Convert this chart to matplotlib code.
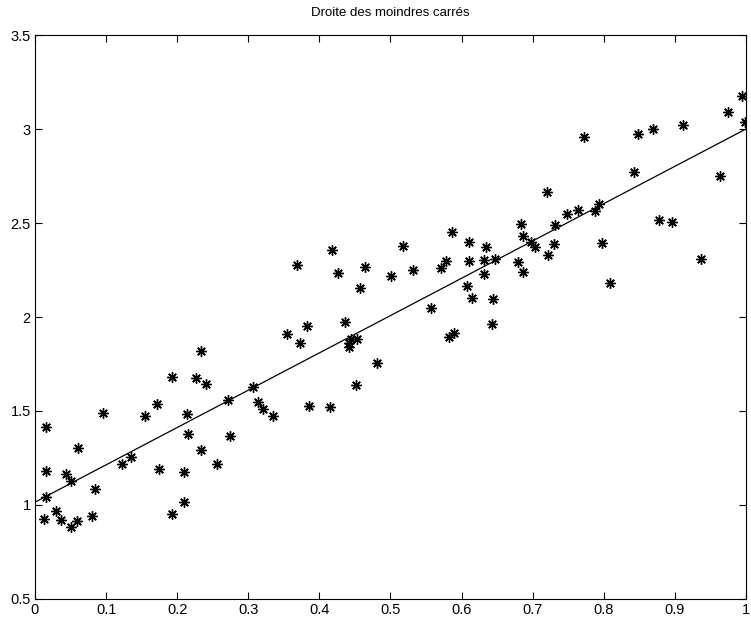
import matplotlib
matplotlib.use("Agg")
import matplotlib.pyplot as plt
import numpy as np

plt.rcParams['font.family'] = ['Liberation Sans', 'DejaVu Sans']

# points
x = [0.016, 0.015, 0.016, 0.013, 0.029, 0.036, 0.051, 0.059, 0.044, 0.050,
     0.060, 0.080, 0.085, 0.095, 0.122, 0.135, 0.155, 0.172, 0.175, 0.193,
     0.192, 0.209, 0.209, 0.214, 0.215, 0.233, 0.227, 0.241, 0.233, 0.256,
     0.271, 0.274, 0.306, 0.314, 0.321, 0.335, 0.386, 0.415, 0.355, 0.373,
     0.383, 0.369, 0.418, 0.426, 0.464, 0.457, 0.436, 0.444, 0.453, 0.441,
     0.442, 0.481, 0.452, 0.501, 0.518, 0.532, 0.571, 0.578, 0.586, 0.557,
     0.583, 0.590, 0.611, 0.610, 0.634, 0.632, 0.647, 0.632, 0.607, 0.615,
     0.644, 0.643, 0.679, 0.687, 0.684, 0.686, 0.697, 0.703, 0.721, 0.730,
     0.731, 0.720, 0.748, 0.764, 0.772, 0.787, 0.793, 0.798, 0.809, 0.842,
     0.848, 0.869, 0.878, 0.896, 0.912, 0.937, 0.964, 0.975, 0.998, 0.994]
y = [1.417, 1.180, 1.040, 0.925, 0.968, 0.920, 0.885, 0.915, 1.165, 1.128,
     1.305, 0.940, 1.085, 1.490, 1.218, 1.257, 1.475, 1.539, 1.190, 1.683,
     0.952, 1.014, 1.175, 1.484, 1.376, 1.819, 1.674, 1.642, 1.293, 1.218,
     1.559, 1.365, 1.626, 1.546, 1.509, 1.475, 1.525, 1.523, 1.910, 1.860,
     1.952, 2.278, 2.356, 2.234, 2.266, 2.152, 1.975, 1.883, 1.881, 1.839,
     1.863, 1.757, 1.640, 2.216, 2.379, 2.250, 2.259, 2.300, 2.451, 2.046,
     1.892, 1.915, 2.397, 2.300, 2.371, 2.303, 2.309, 2.227, 2.163, 2.101,
     2.094, 1.961, 2.294, 2.239, 2.493, 2.429, 2.397, 2.372, 2.330, 2.390,
     2.488, 2.665, 2.548, 2.569, 2.956, 2.564, 2.603, 2.392, 2.181, 2.769,
     2.975, 2.998, 2.516, 2.504, 3.021, 2.307, 2.748, 3.090, 3.039, 3.176]

x = np.array(x)
y = np.array(y)
slope, intercept = np.polyfit(x, y, 1)
xl = np.array([0.0, 1.0])

fig = plt.figure(figsize=(7.51, 6.2), dpi=100)
ax = fig.add_axes([0.0466, 0.0339, 0.9467, 0.9096])

ax.plot(x, y, linestyle='none', marker=(8, 2, 0), markersize=7.5,
        markeredgewidth=1.0, color='black')
ax.plot(xl, slope * xl + intercept, color='black', linewidth=0.9)

ax.set_xlim(0, 1)
ax.set_ylim(0.5, 3.5)
ax.set_xticks(np.arange(0, 1.01, 0.1))
ax.set_xticklabels(['0', '0.1', '0.2', '0.3', '0.4', '0.5', '0.6', '0.7', '0.8', '0.9', '1'])
ax.set_yticks(np.arange(0.5, 3.51, 0.5))
ax.set_yticklabels(['0.5', '1', '1.5', '2', '2.5', '3', '3.5'])
ax.tick_params(direction='in', top=True, right=True, length=5, width=0.8,
               labelsize=10.5, pad=3)
for s in ax.spines.values():
    s.set_linewidth(0.8)

ax.set_title('Droite des moindres carrés', fontsize=9.5, pad=14)

fig.savefig('out.png', dpi=100)
